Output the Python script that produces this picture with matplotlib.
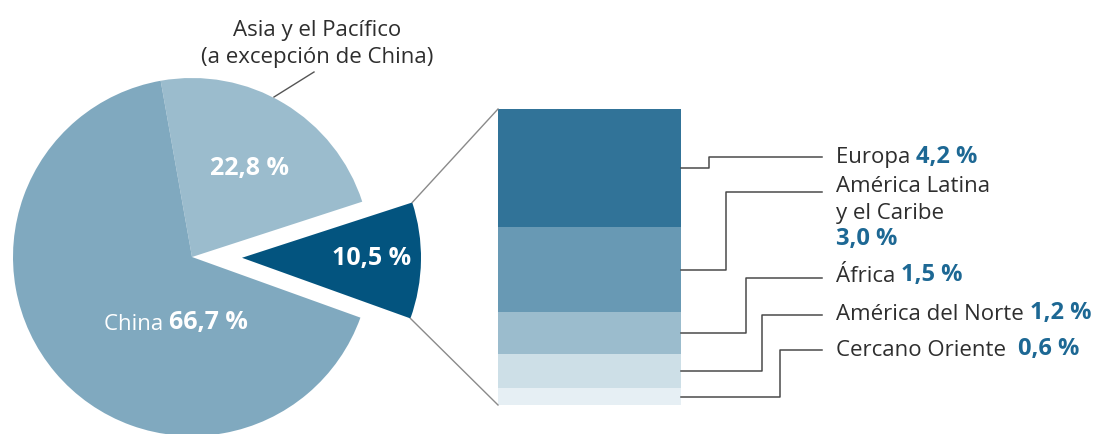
import matplotlib.pyplot as plt
import numpy as np

plt.rcParams['font.family'] = ['Open Sans', 'DejaVu Sans']

W, H = 1103, 434

# Share of the total (pie)
pie_values = [10.5, 22.8, 66.7]
pie_colors = ['#03547f', '#9bbccd', '#80a9bf']

# Breakdown of the 10.5 % slice (stacked bar)
regions = ['Europa', 'América Latina\ny el Caribe', 'África',
           'América del Norte', 'Cercano Oriente']
region_values = [4.2, 3.0, 1.5, 1.2, 0.6]
region_colors = ['#317398', '#6899b4', '#9bbccd', '#cddfe7', '#e6eff4']

TEXT = '#2e2e2e'
BLUE = '#1d6894'
FS = 16        # region names
FS_VAL = 17    # bold values next to them
FS_PIE = 18    # bold values inside the pie


def fmt(v):
    return f"{v:.1f}".replace('.', ',') + ' %'


fig = plt.figure(figsize=(W / 100, H / 100), dpi=100)

# ---- pie (own axes, units of radius) ----
cx, cy, R = 192, 257, 179          # pixel centre / radius
explode_px = 50
start = -19.8
pax = fig.add_axes([0, 0, 1, 1])
wedges, _ = pax.pie(pie_values, colors=pie_colors, startangle=start,
                    explode=[explode_px / R, 0, 0], radius=1,
                    wedgeprops=dict(linewidth=0))
pax.set_xlim(-cx / R, (W - cx) / R)
pax.set_ylim(-(H - cy) / R, cy / R)
pax.axis('off')

# ---- everything else in pixel coordinates (y downwards) ----
ax = fig.add_axes([0, 0, 1, 1])
ax.set_xlim(0, W)
ax.set_ylim(H, 0)
ax.axis('off')
ax.patch.set_visible(False)

# pie labels
ax.text(250, 168, fmt(pie_values[1]), color='white', fontsize=FS_PIE,
        fontweight='bold', ha='center', va='center')
ax.text(372, 258, fmt(pie_values[0]), color='white', fontsize=FS_PIE,
        fontweight='bold', ha='center', va='center')
t = ax.text(104, 325, 'China ', color='white', fontsize=FS,
            ha='left', va='center')
ax.annotate(fmt(pie_values[2]), xy=(1, 0), xycoords=t, color='white',
            fontsize=FS_PIE, fontweight='bold', ha='left', va='bottom')

ax.text(317, 44, 'Asia y el Pacífico\n(a excepción de China)', color=TEXT,
        fontsize=FS, ha='center', va='center', linespacing=1.43)
ax.plot([274, 314], [97, 72], color='#555555', lw=1.0)

# stacked bar for the 10.5 % slice
bar_x0, bar_x1 = 498, 681
bar_top, bar_bot = 109, 405
scale = (bar_bot - bar_top) / sum(region_values)
bottoms = bar_top + scale * np.concatenate([[0], np.cumsum(region_values)[:-1]])
heights = scale * np.array(region_values)
ax.bar((bar_x0 + bar_x1) / 2, heights, bottom=bottoms, width=bar_x1 - bar_x0,
       color=region_colors, linewidth=0)

# connector lines from the exploded wedge to the bar
mid = np.deg2rad(start + 360 * pie_values[0] / 200)
tx = cx + explode_px * np.cos(mid)
ty = cy - explode_px * np.sin(mid)
a1 = np.deg2rad(start)
a2 = np.deg2rad(start + 360 * pie_values[0] / 100)
ax.plot([tx + R * np.cos(a2), bar_x0], [ty - R * np.sin(a2), bar_top],
        color='#8a8a8a', lw=1.0)
ax.plot([tx + R * np.cos(a1), bar_x0], [ty - R * np.sin(a1), bar_bot],
        color='#8a8a8a', lw=1.0)

# leader lines and region labels
knee_x = [709, 726, 746, 762, 780]
line_y = [157, 192, 278, 315, 350]
label_y = [158, 200, 277, 314, 350]
end_x, text_x = 822, 836
mids = bottoms + heights / 2
for name, v, ky, kx, ly, yy in zip(regions, region_values, mids, knee_x,
                                   line_y, label_y):
    ax.plot([bar_x1, kx, kx, end_x], [ky, ky, ly, ly],
            color='#4a4a4a', lw=1.1)
    if '\n' in name:
        ax.text(text_x, yy, name, color=TEXT, fontsize=FS, ha='left',
                va='center', linespacing=1.43)
        ax.text(text_x, yy + 39, fmt(v), color=BLUE, fontsize=FS_VAL,
                fontweight='bold', ha='left', va='center')
    else:
        gap = '  ' if name == 'Cercano Oriente' else ' '
        t = ax.text(text_x, yy, name + gap, color=TEXT, fontsize=FS,
                    ha='left', va='center')
        ax.annotate(fmt(v), xy=(1, 0), xycoords=t, color=BLUE,
                    fontsize=FS_VAL, fontweight='bold', ha='left',
                    va='bottom')

fig.savefig('out.png', dpi=100)
